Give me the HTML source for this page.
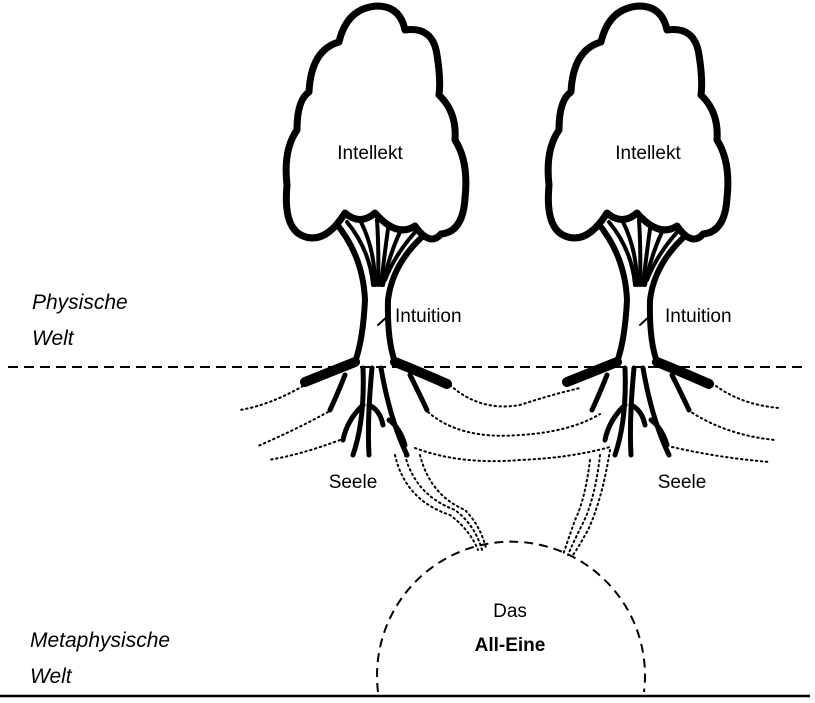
<!DOCTYPE html>
<html><head><meta charset="utf-8"><style>
html,body{margin:0;padding:0;background:#fff;}
svg{display:block;font-family:"Liberation Sans",sans-serif;}
</style></head><body>
<svg width="815" height="703" viewBox="0 0 815 703" xmlns="http://www.w3.org/2000/svg">
<defs>
<g id="tree" fill="none" stroke="#000" stroke-linecap="round" stroke-linejoin="round">
  <path d="M -40,222 Q -12,255 -10,300 Q -12,340 -20,362" stroke-width="6"/>
  <path d="M 60,226 Q 18,258 13,300 Q 12,340 20,362" stroke-width="6"/>
  <path d="M -28,222 Q -5,250 -2,285" stroke-width="4"/>
  <path d="M -14,222 Q 0,250 0,285" stroke-width="4"/>
  <path d="M 2,220 Q 4,250 3,285" stroke-width="4"/>
  <path d="M 14,222 Q 10,250 6,285" stroke-width="4"/>
  <path d="M 30,222 Q 15,250 8,285" stroke-width="4"/>
  <path d="M 46,226 Q 22,250 10,280" stroke-width="4"/>
  <path d="M -30,213 Q -50,245 -72,236 Q -92,228 -88,185 Q -92,150 -78,130 Q -78,100 -66,92 Q -64,50 -36,42 Q -28,8 2,6 Q 25,6 30,30 Q 58,26 62,55 Q 66,80 64,95 Q 82,112 80,140 Q 94,162 90,198 Q 88,232 66,234 Q 55,247 40,226 Q 22,238 0,213 Q -15,226 -30,213 Z" stroke-width="7" fill="#fff"/>
  <path d="M -20,362 Q -45,372 -70,382" stroke-width="10"/>
  <path d="M 20,362 Q 45,372 72,384" stroke-width="10"/>
  <path d="M -12,368 Q -10,420 -22,455" stroke-width="5"/>
  <path d="M -3,368 Q -8,420 -6,455" stroke-width="5"/>
  <path d="M 6,368 Q 15,420 32,455" stroke-width="5"/>
  <path d="M -6,405 Q 5,410 8,425" stroke-width="5"/>
  <path d="M -30,375 Q -38,395 -45,410" stroke-width="5"/>
  <path d="M 35,375 Q 45,395 52,410" stroke-width="5"/>
  <path d="M -12,405 Q -28,420 -32,440" stroke-width="5"/>
  <path d="M 14,420 Q 25,428 30,445" stroke-width="5"/>
  <path d="M 3,325 L 15,314" stroke-width="2"/>
</g>
</defs>
<line x1="8" y1="367" x2="808" y2="367" stroke="#000" stroke-width="2" stroke-dasharray="10,6"/>
<line x1="0" y1="696" x2="810" y2="696" stroke="#000" stroke-width="2.5"/>
<g transform="translate(375,0)"><use href="#tree"/></g>
<g transform="translate(637,0)"><use href="#tree"/></g>
<g fill="none" stroke="#000" stroke-width="2" stroke-dasharray="1.5,3.5" stroke-linecap="round">
  <path d="M 303,386 Q 270,405 240,410"/>
  <path d="M 328,412 Q 295,430 258,446"/>
  <path d="M 340,440 Q 300,455 268,460"/>
  <path d="M 450,385 Q 480,412 520,405 Q 550,395 580,388"/>
  <path d="M 428,412 Q 460,440 520,435 Q 570,432 600,414"/>
  <path d="M 415,448 Q 460,465 520,460 Q 570,458 610,447"/>
  <path d="M 395,455 Q 405,500 450,515 Q 470,530 478,550"/>
  <path d="M 405,455 Q 415,495 455,510 Q 475,525 482,550"/>
  <path d="M 420,455 Q 430,495 465,510 Q 480,525 486,548"/>
  <path d="M 590,460 Q 585,500 575,520 Q 568,540 563,555"/>
  <path d="M 600,455 Q 595,500 582,525 Q 572,545 568,555"/>
  <path d="M 610,450 Q 602,500 588,530 Q 578,548 573,555"/>
  <path d="M 712,383 Q 740,405 780,408"/>
  <path d="M 688,410 Q 725,435 775,440"/>
  <path d="M 672,447 Q 720,458 770,462"/>
</g>
<path d="M 378,692 A 134,134 0 1 1 644,692" fill="none" stroke="#000" stroke-width="2" stroke-dasharray="9,6"/>
<g font-size="19" fill="#000">
  <text x="370" y="159" text-anchor="middle">Intellekt</text>
  <text x="648" y="159" text-anchor="middle">Intellekt</text>
  <text x="395" y="322">Intuition</text>
  <text x="665" y="322">Intuition</text>
  <text x="353" y="488" text-anchor="middle">Seele</text>
  <text x="682" y="488" text-anchor="middle">Seele</text>
  <text x="510" y="617" text-anchor="middle">Das</text>
  <text x="510" y="651" text-anchor="middle" font-weight="bold">All-Eine</text>
</g>
<g font-size="21" font-style="italic" fill="#000">
  <text x="32" y="309">Physische</text>
  <text x="32" y="345">Welt</text>
  <text x="30" y="647">Metaphysische</text>
  <text x="30" y="683">Welt</text>
</g>
</svg>
</body></html>
